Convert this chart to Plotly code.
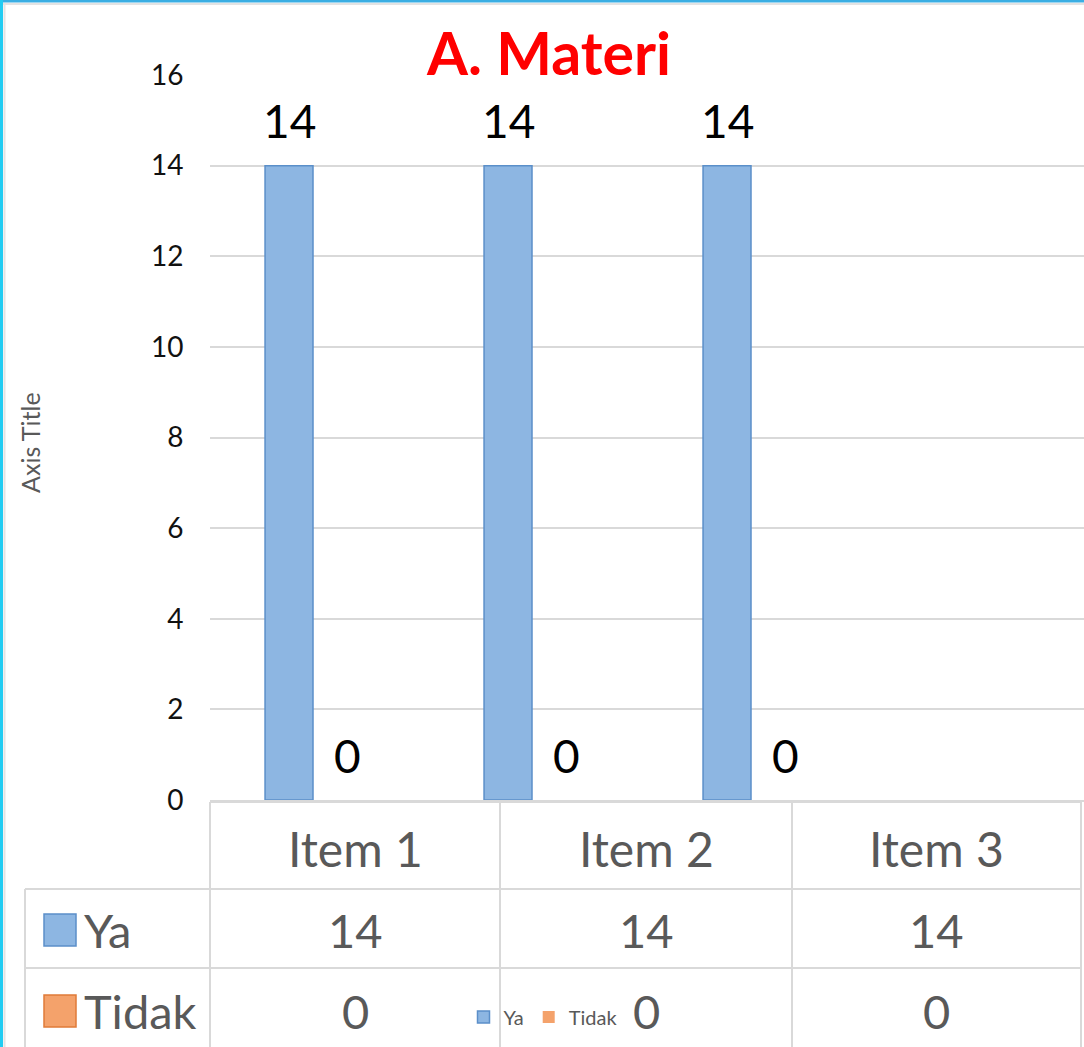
import plotly.graph_objects as go

# ---------------- data ----------------
categories = ["Item 1", "Item 2", "Item 3"]
series_names = ["Ya", "Tidak"]
ya_values = [14, 14, 14]
tidak_values = [0, 0, 0]
y_ticks = [0, 2, 4, 6, 8, 10, 12, 14, 16]
title_text = "A. Materi"
axis_title = "Axis Title"

# ---------------- geometry helpers ----------------
W, H = 1084, 1047
ML, MR, MT, MB = 210, 0, 75, 247
PW, PH = W - ML - MR, H - MT - MB

def px(x):
    return (x - ML) / PW

def py(y):
    return (H - MB - y) / PH

FONT = "Lato, 'Open Sans', sans-serif"
GRID = "#D9D9D9"
TXT = "#595959"
colors = {"Ya": "#8DB6E2", "Tidak": "#F4A26B"}
edges = {"Ya": "#5B8FC9", "Tidak": "#E07B39"}
edge_w = {"Ya": 1.5, "Tidak": 0}

fig = go.Figure()
for name, vals in zip(series_names, [ya_values, tidak_values]):
    fig.add_trace(go.Bar(
        name=name, x=categories, y=vals,
        marker=dict(color=colors[name], line=dict(color=edges[name], width=edge_w[name])),
    ))

annotations = []
# data labels above bars
for name, vals, xs in [("Ya", ya_values, -24), ("Tidak", tidak_values, 34)]:
    for c, v in zip(categories, vals):
        annotations.append(dict(x=c, y=v, xref="x", yref="y", text=str(v),
                                showarrow=False, xshift=xs, yshift=45,
                                yanchor="middle", font=dict(family=FONT, size=46, color="#000000")))

# title
annotations.append(dict(x=px(548), y=py(52), xref="paper", yref="paper", text="<b>%s</b>" % title_text,
                        showarrow=False, xanchor="center", yanchor="middle",
                        font=dict(family=FONT, size=59, color="#FF0000")))
# axis title
annotations.append(dict(x=px(30), y=py(443), xref="paper", yref="paper", text=axis_title, textangle=-90,
                        showarrow=False, xanchor="center", yanchor="middle",
                        font=dict(family=FONT, size=25, color=TXT)))

# data table
col_edges = [210, 500, 792, 1081]
row_edges = [802, 889, 968, 1047]
col_centers = [(col_edges[i] + col_edges[i + 1]) / 2 for i in range(len(categories))]
shapes = []
line = dict(color=GRID, width=2)
for yy in row_edges[:3]:
    x0 = 210 if yy == row_edges[0] else 25
    shapes.append(dict(type="line", xref="paper", yref="paper", x0=px(x0), x1=px(col_edges[-1]),
                       y0=py(yy), y1=py(yy), line=line))
for xx in col_edges:
    shapes.append(dict(type="line", xref="paper", yref="paper", x0=px(xx), x1=px(xx),
                       y0=py(row_edges[0]), y1=py(H + 5), line=line))
shapes.append(dict(type="line", xref="paper", yref="paper", x0=px(25), x1=px(25),
                   y0=py(row_edges[1]), y1=py(H + 5), line=line))

header_y = 848
row_y = [930, 1011]
for c, cx in zip(categories, col_centers):
    annotations.append(dict(x=px(cx), y=py(header_y), xref="paper", yref="paper", text=c,
                            showarrow=False, xanchor="center", yanchor="middle",
                            font=dict(family=FONT, size=48, color=TXT)))
for ry, name, vals in zip(row_y, series_names, [ya_values, tidak_values]):
    for cx, v in zip(col_centers, vals):
        annotations.append(dict(x=px(cx), y=py(ry), xref="paper", yref="paper", text=str(v),
                                showarrow=False, xanchor="center", yanchor="middle",
                                font=dict(family=FONT, size=47, color=TXT)))
    # row label with swatch
    shapes.append(dict(type="rect", xref="paper", yref="paper", x0=px(44), x1=px(76),
                       y0=py(ry - 16), y1=py(ry + 16), fillcolor=colors[name],
                       line=dict(color=edges[name], width=1.5)))
    annotations.append(dict(x=px(82), y=py(ry), xref="paper", yref="paper", text=name,
                            showarrow=False, xanchor="left", yanchor="middle",
                            font=dict(family=FONT, size=47, color=TXT)))

# frame border
shapes.append(dict(type="line", xref="paper", yref="paper", x0=px(0), x1=px(W), y0=py(1), y1=py(1),
                   line=dict(color="#3AAEE3", width=3)))
shapes.append(dict(type="line", xref="paper", yref="paper", x0=px(1.5), x1=px(1.5), y0=py(0), y1=py(H),
                   line=dict(color="#22CCF2", width=3)))
shapes.append(dict(type="line", xref="paper", yref="paper", x0=px(4.5), x1=px(4.5), y0=py(3), y1=py(H),
                   line=dict(color="#E3E3E3", width=2)))
shapes.append(dict(type="line", xref="paper", yref="paper", x0=px(3), x1=px(W), y0=py(4), y1=py(4),
                   line=dict(color="#E3E3E3", width=2)))

fig.update_layout(
    width=W, height=H, autosize=False,
    margin=dict(l=ML, r=MR, t=MT, b=MB, pad=0),
    paper_bgcolor="white", plot_bgcolor="white",
    barmode="group", bargap=0.562, bargroupgap=0,
    showlegend=True,
    legend=dict(orientation="h", x=px(543), xanchor="center", y=py(1017), yanchor="middle",
                bgcolor="rgba(0,0,0,0)", font=dict(family=FONT, size=20, color=TXT),
                itemwidth=30, traceorder="normal"),
    xaxis=dict(type="category", categoryorder="array", categoryarray=categories,
               range=[-0.4703, 3.5205], showticklabels=False, showgrid=False,
               showline=True, linecolor=GRID, linewidth=2, zeroline=False, ticks=""),
    yaxis=dict(range=[0, 16], tickvals=y_ticks, showgrid=True, gridcolor=GRID, gridwidth=2,
               zeroline=False, showline=False, ticks="outside", ticklen=0, ticklabelstandoff=20,
               tickfont=dict(family=FONT, size=28, color="#111111")),
    annotations=annotations, shapes=shapes,
)

fig.write_html("out.html", config={"displayModeBar": False},
               post_script="document.body.style.margin='0';")
